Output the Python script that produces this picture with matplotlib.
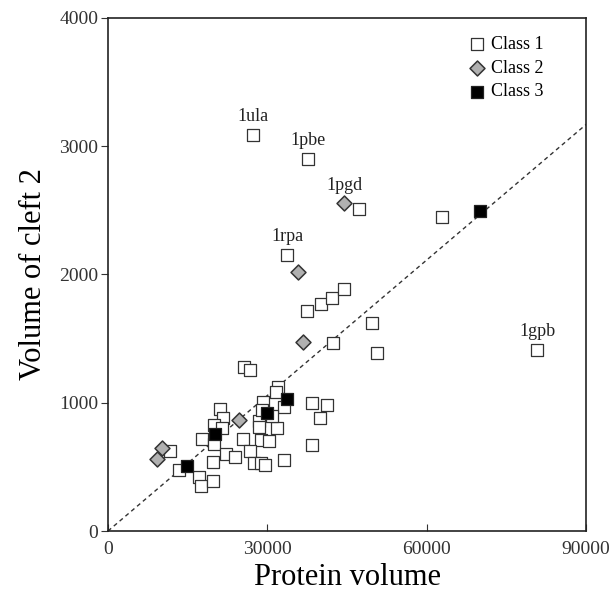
import numpy as np
import matplotlib.pyplot as plt

plt.rcParams['font.family'] = ['Liberation Serif', 'DejaVu Serif']

# Class 1 (open squares)
c1_x = [27.36, 37.60, 47.32, 62.79, 33.76, 80.78, 37.47, 40.05, 42.18, 44.49,
        49.65, 50.65, 42.31, 25.66, 26.74, 31.95, 31.63, 38.47, 41.18, 39.92,
        29.13, 33.14, 21.09, 21.71, 28.38, 28.38, 31.76, 19.96, 21.46, 17.70,
        20.01, 25.42, 28.86, 30.26, 38.47, 11.67, 22.22, 23.97, 26.79, 19.77,
        27.55, 28.86, 29.50, 33.14, 13.42, 17.19, 17.51, 19.71, 29.06, 30.88]
c1_y = [3088, 2903, 2513, 2448, 2152, 1411, 1713, 1770, 1819, 1885,
        1624, 1388, 1468, 1281, 1255, 1125, 1081, 996, 980, 881,
        1006, 965, 949, 881, 860, 813, 805, 827, 801, 720,
        676, 720, 710, 699, 671, 626, 600, 575, 621, 540,
        533, 533, 517, 554, 476, 419, 351, 392, 943, 897]
c1_x = [v * 1000 for v in c1_x]

# Class 2 (grey diamonds)
c2_x = [44440, 35720, 36720, 24720, 10170, 9280]
c2_y = [2555, 2022, 1471, 865, 647, 564]

# Class 3 (black squares)
c3_x = [70040, 33700, 29880, 20200, 14820]
c3_y = [2495, 1029, 918, 754, 507]

# labelled proteins
lab_names = ['1ula', '1pbe', '1pgd', '1rpa', '1gpb']
lab_x = [27360, 37600, 44440, 33760, 80780]
lab_y = [3088, 2903, 2555, 2152, 1411]

fit_x = [0, 90000]
fit_y = [0, 3170]

fig = plt.figure(figsize=(6.1, 5.96), dpi=100)
ax = fig.add_axes([0.177, 0.109, 0.784, 0.861])

ax.plot(fit_x, fit_y, linestyle=(0, (3, 2.5)), color='#333333', linewidth=1.0, zorder=1)

ax.scatter(c1_x, c1_y, marker='s', s=70, facecolor='white', edgecolor='#333333',
           linewidth=0.9, label='Class 1', zorder=2)
ax.scatter(c2_x, c2_y, marker='D', s=58, facecolor='#b0b0b0', edgecolor='#333333',
           linewidth=1.1, label='Class 2', zorder=3)
ax.scatter(c3_x, c3_y, marker='s', s=70, facecolor='black', edgecolor='#222222',
           linewidth=0.9, label='Class 3', zorder=3)

for name, x, y in zip(lab_names, lab_x, lab_y):
    ax.annotate(name, (x, y), xytext=(0, 7), textcoords='offset points',
                ha='center', va='bottom', fontsize=13, color='#222222')

ax.set_xlim(0, 90000)
ax.set_ylim(0, 4000)
ax.set_xticks([0, 30000, 60000, 90000])
ax.set_yticks([0, 1000, 2000, 3000, 4000])
ax.tick_params(axis='x', direction='in', length=5, labelsize=14, colors='#333333', pad=7)
ax.tick_params(axis='y', direction='out', length=5, labelsize=14, colors='#333333', pad=2)
for sp in ax.spines.values():
    sp.set_linewidth(1.2)
    sp.set_color('#222222')

ax.set_xlabel('Protein volume', fontsize=22, labelpad=4)
ax.set_ylabel('Volume of cleft 2', fontsize=22, labelpad=8)

ax.legend(loc='upper right', bbox_to_anchor=(0.945, 0.997), frameon=False,
          fontsize=13, handlelength=1.2, handletextpad=0.2, labelspacing=0.38,
          borderaxespad=0.5)

fig.savefig('out.png', dpi=100)
